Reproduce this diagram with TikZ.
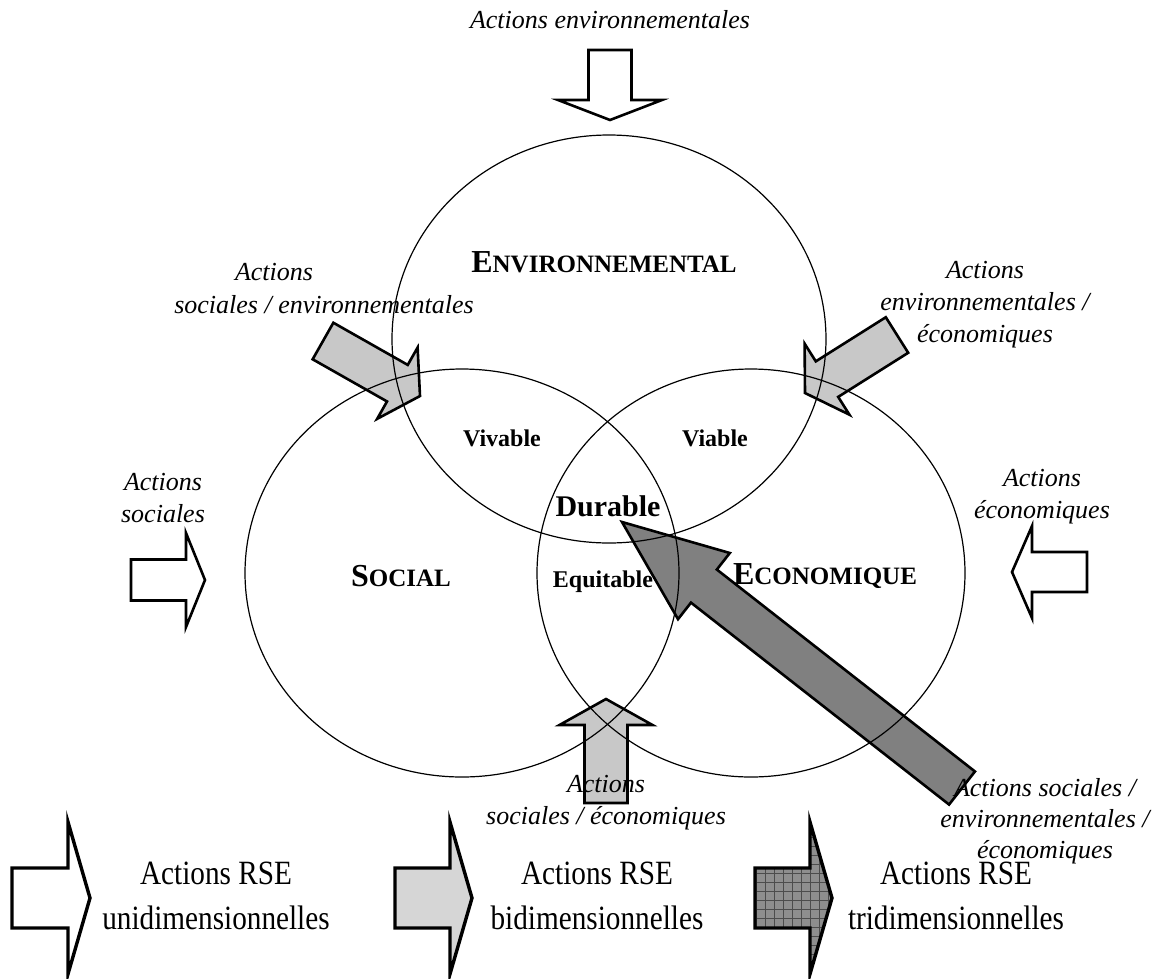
\documentclass[tikz,border=0pt]{standalone}
\usepackage{fontspec}
\setmainfont{Liberation Serif}
\newfontfamily\legfont[FakeStretch=0.86]{Liberation Serif}
\usetikzlibrary{calc,shapes.geometric}
\definecolor{lightfill}{HTML}{C8C8C8}
\definecolor{darkfill}{HTML}{808080}
\definecolor{legfill}{HTML}{D6D6D6}
\definecolor{gridfill}{HTML}{8E8E8E}
\newcommand{\blockarrow}[6]{%
  \coordinate (#3h) at ($(#3)!#6!(#2)$);
  \path[#1] (#3) -- ($(#3h)!#5!90:(#3)$) -- ($(#3h)!#4!90:(#3)$)
    -- ($(#2)!#4!90:(#3)$) -- ($(#2)!#4!-90:(#3)$)
    -- ($(#3h)!#4!-90:(#3)$) -- ($(#3h)!#5!-90:(#3)$) -- cycle;}
\newcommand{\fsc}[2]{{\fontsize{32}{36}\selectfont #1}{\fontsize{25}{30}\selectfont #2}}
\tikzset{
  ring/.style={ellipse, draw, line width=1.2pt, inner sep=0pt},
  arrw/.style={draw, line width=2.6pt, line join=miter},
  legarrw/.style={draw, line width=3.4pt, line join=miter},
  lab/.style={font=\fontsize{26}{32}\selectfont\itshape, align=center, inner sep=0pt},
  dom/.style={font=\bfseries, inner sep=0pt},
  zone/.style={font=\fontsize{24}{28}\selectfont\bfseries, inner sep=0pt},
  leg/.style={font=\legfont\fontsize{34}{45}\selectfont, align=center, inner sep=0pt}
}
\begin{document}
\begin{tikzpicture}[x=1pt,y=-1pt]
\useasboundingbox (0,0) rectangle (1170,978);

% arrow coordinates
\coordinate (tA) at (610,50);   \coordinate (pA) at (610,120);
\coordinate (tB) at (131,580);  \coordinate (pB) at (205,580);
\coordinate (tC) at (1087,572); \coordinate (pC) at (1012,572);
\coordinate (tD) at (323,341);  \coordinate (pD) at (420,396);
\coordinate (tE) at (897,335);  \coordinate (pE) at (805,393);
\coordinate (tF) at (606,803);  \coordinate (pF) at (606,699);
\coordinate (tG) at (962,788);  \coordinate (pG) at (622,522);
\coordinate (tL1) at (12,898);  \coordinate (pL1) at (90,898);
\coordinate (tL2) at (395,898); \coordinate (pL2) at (472,898);
\coordinate (tL3) at (755,898); \coordinate (pL3) at (832,898);

% main arrows
\blockarrow{arrw, fill=white}{tA}{pA}{21.5pt}{52pt}{20pt}
\blockarrow{arrw, fill=white}{tB}{pB}{20.5pt}{47pt}{19pt}
\blockarrow{arrw, fill=white}{tC}{pC}{20pt}{46pt}{20pt}
\blockarrow{arrw, fill=lightfill}{tD}{pD}{21pt}{41pt}{26pt}
\blockarrow{arrw, fill=lightfill}{tE}{pE}{21pt}{42pt}{26pt}
\blockarrow{arrw, fill=lightfill}{tF}{pF}{21.5pt}{46.5pt}{26pt}
\blockarrow{arrw, fill=darkfill}{tG}{pG}{21pt}{42pt}{104pt}

% legend arrows
\blockarrow{legarrw, fill=white}{tL1}{pL1}{30pt}{76pt}{22pt}
\blockarrow{legarrw, fill=legfill}{tL2}{pL2}{30pt}{76pt}{22pt}
\begin{scope}
  \blockarrow{clip}{tL3}{pL3}{30pt}{76pt}{22pt}
  \fill[gridfill] (750,815) rectangle (840,980);
  \draw[step=9pt, line width=0.8pt, black!70] (750,815) grid (840,980);
\end{scope}
\blockarrow{legarrw}{tL3}{pL3}{30pt}{76pt}{22pt}

% circles
\node[ring, minimum width=434pt, minimum height=408pt] (env) at (609,339) {};
\node[ring, minimum width=434pt, minimum height=408pt] (soc) at (462,573) {};
\node[ring, minimum width=428pt, minimum height=408pt] (eco) at (751,573) {};

% domain labels
\node[dom] (envlab) at (604,262) {\fsc{E}{NVIRONNEMENTAL}};
\node[dom] (soclab) at (401,576) {\fsc{S}{OCIAL}};
\node[dom] (ecolab) at (825,576) {\fsc{E}{CONOMIQUE}};

\node[zone] (viv) at (502,438) {Vivable};
\node[zone] (via) at (715,438) {Viable};
\node[zone, font=\fontsize{30}{34}\selectfont\bfseries] (dur) at (608,506) {Durable};
\node[zone] (equ) at (603,582) {Equitable};

% action labels
\node[lab] (lA) at (610,20) {Actions environnementales};
\node[lab] (lB) at (163,498) {Actions\\sociales};
\node[lab] (lC) at (1042,497) {Actions\\économiques};
\node[lab] (lD1) at (274,272) {Actions};
\node[lab] (lD2) at (324,305) {sociales / environnementales};
\node[lab] (lE) at (985,305) {Actions\\environnementales /\\économiques};
\node[lab] (lF) at (606,803) {Actions\\sociales / économiques};
\node[lab, font=\fontsize{26}{31}\selectfont\itshape] (lG) at (1045,821) {Actions sociales /\\environnementales /\\économiques};

% legend texts
\node[leg] (g1) at (216,896) {Actions RSE\\unidimensionnelles};
\node[leg] (g2) at (597,896) {Actions RSE\\bidimensionnelles};
\node[leg] (g3) at (956,896) {Actions RSE\\tridimensionnelles};
\end{tikzpicture}
\end{document}
